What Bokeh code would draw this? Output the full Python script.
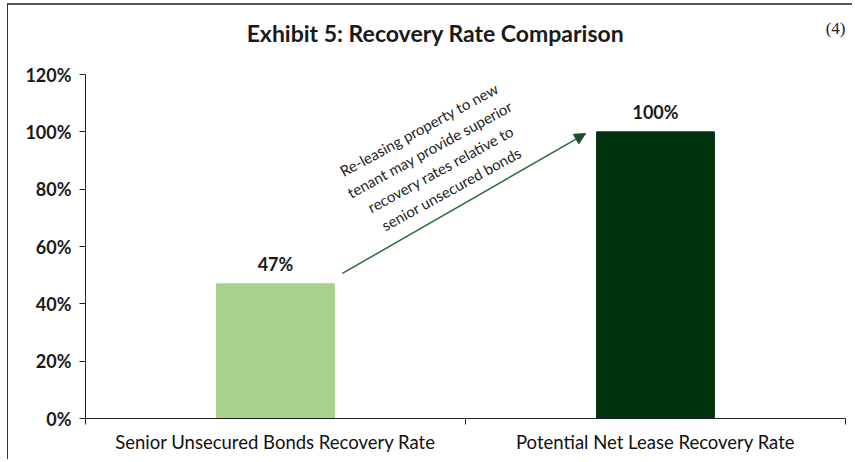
from bokeh.plotting import figure
from bokeh.models import (ColumnDataSource, Range1d, FixedTicker, Label, Arrow,
                          NormalHead, NumeralTickFormatter)
from bokeh.core.properties import value
from bokeh.embed import file_html
from bokeh.resources import INLINE

categories = ["Senior Unsecured Bonds Recovery Rate", "Potential Net Lease Recovery Rate"]
rates = [0.47, 1.00]
rate_labels = ["47%", "100%"]
colors = ["#A9D18E", "#00330F"]
y_ticks = [0, 0.2, 0.4, 0.6, 0.8, 1.0, 1.2]
title_text = "Exhibit 5: Recovery Rate Comparison"
note_text = "(4)"
callout = "Re-leasing property to new\ntenant may provide superior\nrecovery rates relative to\nsenior unsecured bonds"

FONT = "Lato"

xs = [i + 0.5 for i in range(len(categories))]
src = ColumnDataSource(dict(x=xs, top=rates, lab=rate_labels, color=colors))

p = figure(width=845, height=456, output_backend="svg", toolbar_location=None, title=None,
           x_range=Range1d(0, len(categories)), y_range=Range1d(0, 1.4407),
           min_border_left=77, min_border_right=8, min_border_top=0, min_border_bottom=43)
p.styles = {"border-top": "2px solid #555", "border-left": "1px solid #333",
            "margin-left": "7px", "margin-top": "3px"}
p.outline_line_color = None
p.xgrid.visible = False
p.ygrid.visible = False
p.background_fill_color = "white"
p.border_fill_color = "white"

p.vbar(x="x", top="top", width=0.31, color="color", source=src)
p.text(x="x", y="top", text="lab", source=src, text_align="center", text_baseline="bottom",
       y_offset=-9, text_font=value(FONT), text_font_style="bold", text_font_size="18px",
       text_color="#1a1a1a")

# y axis (line limited to 0..120%)
p.yaxis.ticker = FixedTicker(ticks=y_ticks)
p.yaxis.bounds = (y_ticks[0], y_ticks[-1])
p.yaxis.formatter = NumeralTickFormatter(format="0%")
p.yaxis.major_label_text_font = FONT
p.yaxis.major_label_text_font_style = "bold"
p.yaxis.major_label_text_font_size = "18px"
p.yaxis.major_label_text_color = "#1a1a1a"
p.yaxis.major_tick_out = 6
p.yaxis.major_tick_in = 0
p.yaxis.minor_tick_line_color = None
p.yaxis.axis_line_color = "#222"
p.yaxis.major_tick_line_color = "#222"
p.yaxis.major_label_standoff = 8

# x axis
p.xaxis.ticker = FixedTicker(ticks=xs, minor_ticks=list(range(len(categories) + 1)))
p.xaxis.major_label_overrides = {x: c for x, c in zip(xs, categories)}
p.xaxis.major_tick_out = 0
p.xaxis.major_tick_in = 0
p.xaxis.minor_tick_out = 6
p.xaxis.minor_tick_in = 0
p.xaxis.minor_tick_line_color = "#222"
p.xaxis.axis_line_color = "#222"
p.xaxis.major_label_text_font = FONT
p.xaxis.major_label_text_font_size = "18.5px"
p.xaxis.major_label_text_color = "#111"
p.xaxis.major_label_standoff = 6

# title and note
p.add_layout(Label(x=0.921, y=1.3465, text=title_text, text_align="center", text_baseline="middle",
                   text_font=FONT, text_font_style="bold", text_font_size="23px", text_color="#1a1a1a"))
p.add_layout(Label(x=1.974, y=1.36, text=note_text, text_align="center", text_baseline="middle",
                   text_font="Liberation Serif", text_font_size="17px", text_color="#222"))

# arrow and callout
p.add_layout(Arrow(x_start=0.676, y_start=rates[0] + 0.036, x_end=1.316, y_end=rates[1] - 0.006,
                   line_color="#2F6B3A", line_width=1.5,
                   end=NormalHead(size=11, fill_color="#1F4D2A", line_color="#1F4D2A")))
p.add_layout(Label(x=0.92, y=0.905, text=callout, text_align="center", text_baseline="middle",
                   angle=0.5, text_font=FONT, text_font_size="15px", text_color="#222",
                   text_line_height=1.25))

open("out.html", "w").write(file_html(p, INLINE))
